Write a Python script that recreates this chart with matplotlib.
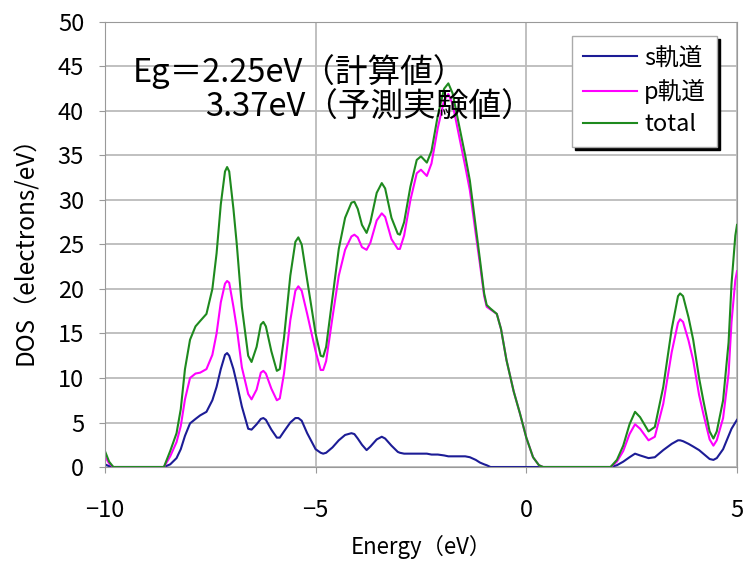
import matplotlib.pyplot as plt

plt.rcParams['font.family'] = ['Noto Sans CJK JP', 'DejaVu Sans']

# energy grid (eV) shared by the three curves
energy = [-10, -9.9, -9.8, -8.6, -8.45, -8.3, -8.2, -8.1, -7.98, -7.85, -7.74, -7.59,
          -7.45, -7.35, -7.25, -7.15, -7.1, -7.05, -6.95, -6.87, -6.75, -6.6, -6.52,
          -6.4, -6.3, -6.24, -6.18, -6.05, -5.92, -5.85, -5.75, -5.6, -5.48, -5.41,
          -5.33, -5.2, -5.0, -4.88, -4.82, -4.75, -4.6, -4.45, -4.3, -4.15, -4.08,
          -4.0, -3.9, -3.79, -3.7, -3.55, -3.43, -3.35, -3.2, -3.05, -3.0, -2.9,
          -2.75, -2.6, -2.5, -2.36, -2.25, -2.1, -1.95, -1.85, -1.75, -1.6, -1.45,
          -1.34, -1.2, -1.1, -1.0, -0.94, -0.85, -0.7, -0.6, -0.47, -0.3, -0.15,
          0.0, 0.16, 0.3, 0.4, 2.0, 2.15, 2.3, 2.45, 2.58, 2.7, 2.9, 3.05, 3.25,
          3.45, 3.6, 3.65, 3.72, 3.85, 3.96, 4.1, 4.2, 4.35, 4.44, 4.52, 4.67, 4.8,
          4.87, 4.96, 5.0]

dos_s = [0.3, 0.1, 0, 0, 0.3, 1.0, 2.0, 3.5, 4.9, 5.4, 5.8, 6.2,
         7.5, 9.0, 11.0, 12.6, 12.8, 12.5, 11.0, 9.4, 6.8, 4.3, 4.2,
         4.8, 5.4, 5.5, 5.3, 4.2, 3.3, 3.3, 4.0, 5.0, 5.5, 5.5,
         5.2, 3.8, 2.0, 1.6, 1.5, 1.6, 2.2, 3.0, 3.6, 3.8, 3.7,
         3.2, 2.5, 1.9, 2.3, 3.1, 3.4, 3.2, 2.4, 1.7, 1.6, 1.5,
         1.5, 1.5, 1.5, 1.5, 1.4, 1.4, 1.3, 1.2, 1.2, 1.2, 1.2,
         1.1, 0.8, 0.5, 0.3, 0.2, 0.0, 0, 0, 0, 0, 0,
         0, 0, 0, 0, 0, 0.2, 0.6, 1.1, 1.5, 1.3, 1.0, 1.1, 1.9,
         2.6, 3.0, 3.0, 2.9, 2.6, 2.3, 1.9, 1.5, 0.9, 0.8, 1.0, 2.0, 3.5,
         4.3, 5.0, 5.3]

dos_p = [1.2, 0.4, 0, 0, 1.2, 2.8, 4.6, 7.6, 10.0, 10.5, 10.6, 11.0,
         12.6, 15.0, 18.5, 20.6, 20.9, 20.7, 18.0, 15.6, 11.2, 8.2, 7.6,
         8.7, 10.6, 10.8, 10.5, 8.8, 7.5, 7.7, 10.5, 16.5, 19.8, 20.3,
         19.8, 17.2, 13.0, 10.9, 10.9, 11.9, 16.8, 21.5, 24.4, 25.9, 26.1,
         25.8, 24.7, 24.4, 25.2, 27.7, 28.5, 28.1, 25.6, 24.5, 24.5, 26.0,
         30.0, 33.0, 33.4, 32.7, 34.1, 38.1, 41.2, 41.9, 40.8, 37.3, 33.8,
         31.1, 26.2, 22.8, 19.2, 18.0, 17.7, 17.2, 15.5, 12.0, 8.5, 6.0,
         3.3, 1.1, 0.2, 0, 0, 0.6, 1.8, 3.7, 4.8, 4.3, 3.0, 3.4, 7.1,
         12.9, 16.2, 16.6, 16.3, 14.2, 12.0, 8.1, 6.0, 3.1, 2.4, 3.0, 5.5, 10.5,
         16.3, 21.0, 22.0]

dos_total = [1.8, 0.6, 0, 0, 1.8, 3.8, 6.5, 11.0, 14.3, 15.8, 16.4, 17.2,
             20.0, 24.0, 29.5, 33.2, 33.7, 33.2, 29.0, 25.0, 18.0, 12.5, 11.8,
             13.5, 16.0, 16.3, 15.8, 13.0, 10.8, 11.0, 14.5, 21.5, 25.3, 25.8,
             25.0, 21.0, 15.0, 12.5, 12.4, 13.5, 19.0, 24.5, 28.0, 29.7, 29.8,
             29.0, 27.2, 26.3, 27.5, 30.8, 31.9, 31.3, 28.0, 26.2, 26.1, 27.5,
             31.5, 34.5, 34.9, 34.2, 35.5, 39.5, 42.5, 43.1, 42.0, 38.5, 35.0,
             32.2, 27.0, 23.3, 19.5, 18.2, 17.8, 17.2, 15.5, 12.0, 8.5, 6.0,
             3.3, 1.1, 0.2, 0, 0, 0.8, 2.4, 4.8, 6.2, 5.6, 4.0, 4.5, 9.0,
             15.5, 19.2, 19.5, 19.2, 16.8, 14.3, 10.0, 7.5, 4.0, 3.2, 4.0, 7.5, 14.0,
             20.6, 26.0, 27.2]

fig = plt.figure(figsize=(7.44, 5.63), dpi=100)
ax = fig.add_axes([0.141, 0.1705, 0.8496, 0.7905])

ax.plot(energy, dos_s, color='#1c1c96', linewidth=1.5, label='s軌道')
ax.plot(energy, dos_p, color='#ff00ff', linewidth=1.5, label='p軌道')
ax.plot(energy, dos_total, color='#1e8a1e', linewidth=1.5, label='total')

ax.set_xlim(-10, 5)
ax.set_ylim(0, 50)
ax.set_xticks([-10, -5, 0, 5])
ax.set_xticklabels(['−10', '−5', '0', '5'])
ax.set_yticks(range(0, 51, 5))
ax.grid(True, color='#bbbbbb', linewidth=1.3)
for sp in ax.spines.values():
    sp.set_color('#999999')
ax.tick_params(axis='both', labelsize=17, color='#999999', length=4)
ax.tick_params(axis='x', pad=19)
ax.tick_params(axis='y', pad=11)
ax.set_xlabel('Energy（eV）', fontsize=16, va='center')
ax.set_ylabel('DOS（electrons/eV）', fontsize=17.5)
ax.xaxis.set_label_coords(0.5, -0.18)
ax.yaxis.set_label_coords(-0.105, 0.5)

leg = ax.legend(loc='upper right', bbox_to_anchor=(0.968, 0.969), borderaxespad=0,
                fancybox=False, shadow={'color': 'black', 'alpha': 1},
                edgecolor='#aaaaaa', framealpha=1, fontsize=17,
                handlelength=2.3, handletextpad=0.3, labelspacing=0.4,
                borderpad=0.45)
leg.get_frame().set_linewidth(1.0)

fig.text(133 / 744, 1 - 72 / 563, 'Eg＝2.25eV（計算値）', fontsize=23.5, va='center')
fig.text(205 / 744, 1 - 108 / 563, '3.37eV（予測実験値）', fontsize=23.5, va='center')

fig.savefig('out.png', dpi=100)
